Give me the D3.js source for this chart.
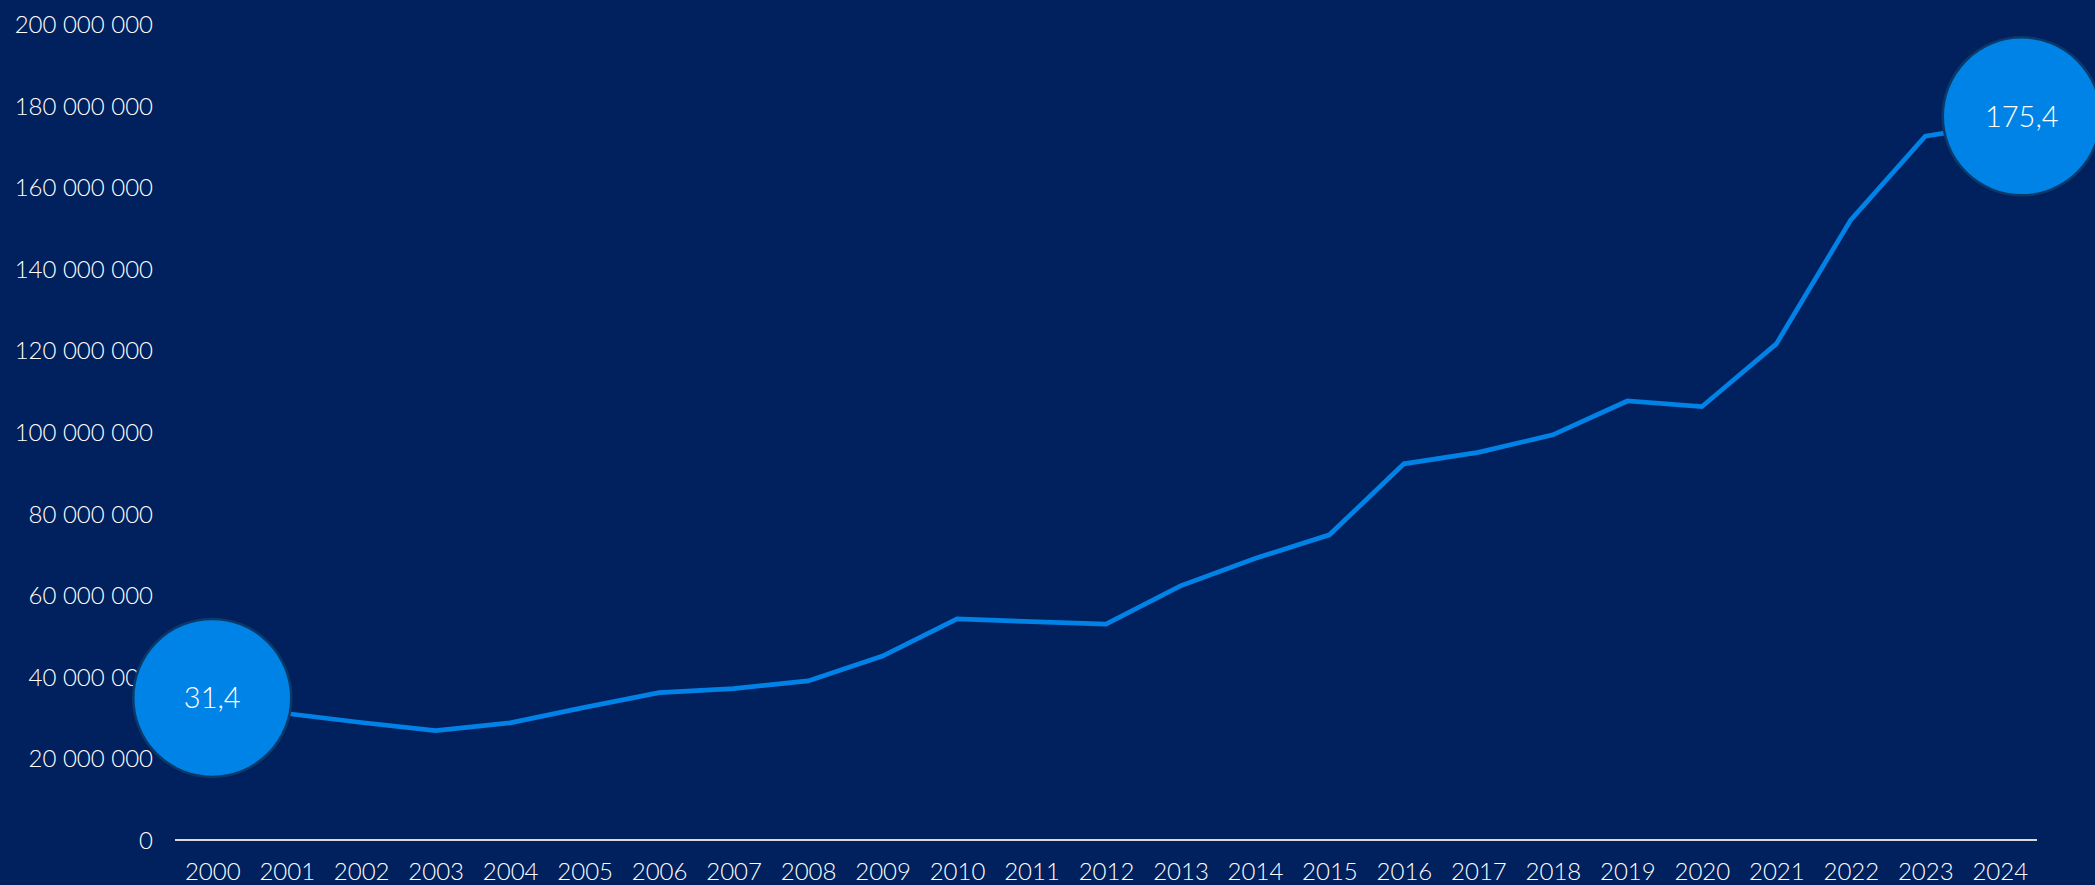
<!DOCTYPE html>
<html>
<head>
<meta charset="utf-8">
<title>Line chart 2000-2024</title>
<script src="https://d3js.org/d3.v7.min.js"></script>
<style>
  html, body { margin: 0; padding: 0; background: #00215e; overflow: hidden; }
  svg { display: block; }
  .tick-label { font-family: Lato, 'Open Sans', sans-serif; font-weight: 300; font-size: 24px; fill: #ffffff; }
  .bubble-label { font-family: Lato, 'Open Sans', sans-serif; font-weight: 300; font-size: 29px; fill: #ffffff; }
</style>
</head>
<body>
<script>
'use strict';

// data
const years = [2000, 2001, 2002, 2003, 2004, 2005, 2006, 2007, 2008, 2009, 2010, 2011, 2012,
               2013, 2014, 2015, 2016, 2017, 2018, 2019, 2020, 2021, 2022, 2023, 2024];
const values = [31.4, 31.0, 28.8, 26.8, 28.7, 32.5, 36.1, 37.1, 39.0, 45.1, 54.2, 53.5, 52.9,
                62.3, 69.0, 74.8, 92.2, 95.0, 99.3, 107.6, 106.2, 121.6, 152.0, 172.5, 175.4]
               .map(function(v) { return v * 1e6; });
const yTicks = [0, 20e6, 40e6, 60e6, 80e6, 100e6, 120e6, 140e6, 160e6, 180e6, 200e6];
const highlighted = [2000, 2024];   // years with a value bubble

const width = 2095;
const height = 885;
const plot = {left: 175, right: 2037, top: 24, bottom: 840};

const locale = d3.formatLocale({decimal: ',', thousands: ' ', grouping: [3], currency: ['', '']});
const fmtTick = locale.format(',.0f');
const fmtBubble = locale.format('.1f');

const svg = d3.select('body').append('svg')
    .attr('width', width)
    .attr('height', height);

svg.append('rect')
    .attr('width', width)
    .attr('height', height)
    .attr('fill', '#00215e');

const x = d3.scalePoint()
    .domain(years)
    .range([plot.left, plot.right])
    .padding(0.5);

const y = d3.scaleLinear()
    .domain([0, 200e6])
    .range([plot.bottom, plot.top]);

// y axis: labels only
const yAxis = svg.append('g')
    .attr('transform', 'translate(' + (plot.left - 22) + ',0)')
    .call(d3.axisLeft(y).tickValues(yTicks).tickFormat(fmtTick).tickSize(0).tickPadding(0));
yAxis.select('.domain').remove();
yAxis.selectAll('text')
    .attr('class', 'tick-label')
    .attr('fill', null)
    .attr('font-size', null)
    .attr('font-family', null)
    .attr('dy', '0.35em');

// x axis: baseline + year labels
const xAxis = svg.append('g')
    .attr('transform', 'translate(0,' + plot.bottom + ')')
    .call(d3.axisBottom(x).tickSize(0).tickPadding(32));
xAxis.select('.domain')
    .attr('stroke', '#d9d9d9')
    .attr('stroke-width', 2)
    .attr('d', 'M' + plot.left + ',0H' + plot.right);
xAxis.selectAll('text')
    .attr('class', 'tick-label')
    .attr('fill', null)
    .attr('font-size', null)
    .attr('font-family', null)
    .attr('dy', '0.35em');

const line = d3.line()
    .x(function(d, i) { return x(years[i]); })
    .y(function(d) { return y(d); });

svg.append('path')
    .datum(values)
    .attr('fill', 'none')
    .attr('stroke', '#0082e6')
    .attr('stroke-width', 4.7)
    .attr('stroke-linejoin', 'miter')
    .attr('d', line);

// value bubbles (nudged like in the original layout)
const nudge = {2000: {dx: 0, dy: -14}, 2024: {dx: 22, dy: -8}};
const bubbles = svg.selectAll('g.bubble')
    .data(highlighted)
    .join('g')
    .attr('class', 'bubble')
    .attr('transform', function(d) {
        const i = years.indexOf(d);
        return 'translate(' + (x(d) + nudge[d].dx) + ',' + (y(values[i]) + nudge[d].dy) + ')';
    });

bubbles.append('circle')
    .attr('r', 79)
    .attr('fill', '#0083e6')
    .attr('stroke', '#0b3a6a')
    .attr('stroke-width', 2.5);

bubbles.append('text')
    .attr('class', 'bubble-label')
    .attr('text-anchor', 'middle')
    .attr('dy', '0.36em')
    .text(function(d) { return fmtBubble(values[years.indexOf(d)] / 1e6); });
</script>
</body>
</html>
